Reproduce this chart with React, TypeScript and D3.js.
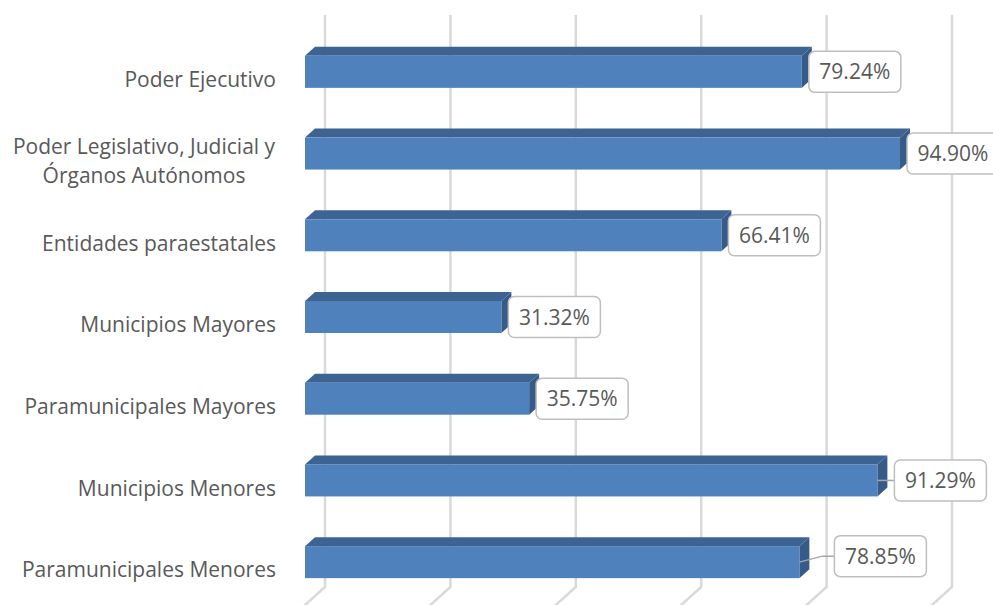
import React from "react";
import * as d3 from "d3";

const categories: string[][] = [
  ["Poder Ejecutivo"],
  ["Poder Legislativo, Judicial y", "Órganos Autónomos"],
  ["Entidades paraestatales"],
  ["Municipios Mayores"],
  ["Paramunicipales Mayores"],
  ["Municipios Menores"],
  ["Paramunicipales Menores"],
];
const values: number[] = [79.24, 94.9, 66.41, 31.32, 35.75, 91.29, 78.85];
const gridTicks: number[] = [0, 20, 40, 60, 80, 100];

const W = 993;
const H = 605;
const DEPTH_X = 20;
const DEPTH_Y = 18;
const BAR_DX = 10;
const BAR_DY = 9;
const FRONT_X0 = 305;
const BACK_TOP = 15;
const BAR_H = 32;
const FONT = "'Open Sans', sans-serif";

// label box adjustments (leader lines) for the last two bars
const labelAdjust: { dx: number; dy: number }[] = [
  { dx: 0, dy: 0 },
  { dx: 0, dy: 0 },
  { dx: 0, dy: 0 },
  { dx: 0, dy: 0 },
  { dx: 0, dy: 0 },
  { dx: 10, dy: 0 },
  { dx: 28, dy: -6 },
];

export default function App() {
  const x = d3.scaleLinear().domain([0, 100]).range([FRONT_X0, FRONT_X0 + 627]);
  const keys = categories.map((_, i) => String(i));
  const y = d3
    .scaleBand<string>()
    .domain(keys)
    .range([BACK_TOP + DEPTH_Y - 2, H - 2])
    .paddingInner(0)
    .paddingOuter(0);
  const step = y.bandwidth();

  return (
    <div style={{ position: "fixed", left: 0, top: 0 }}>
      <svg width={W} height={H} style={{ display: "block", background: "#fff" }}>
        {gridTicks.map((t) => {
          const xb = x(t) + DEPTH_X;
          const yb = H - DEPTH_Y;
          return (
            <path
              key={t}
              d={`M${xb},${BACK_TOP}L${xb},${yb}L${xb - DEPTH_X * 1.3},${yb + DEPTH_Y * 1.3}`}
              fill="none"
              stroke="#d9d9d9"
              strokeWidth={2.5}
            />
          );
        })}
        {values.map((v, i) => {
          const cy = (y(String(i)) as number) + step / 2;
          const top = cy - BAR_H / 2;
          const x0 = x(0);
          const xe = x(v);
          return (
            <g key={i}>
              <polygon
                points={`${x0},${top} ${x0 + BAR_DX},${top - BAR_DY} ${xe + BAR_DX},${top - BAR_DY} ${xe},${top}`}
                fill="#3d6393"
              />
              <polygon
                points={`${xe},${top} ${xe + BAR_DX},${top - BAR_DY} ${xe + BAR_DX},${top + BAR_H - BAR_DY} ${xe},${top + BAR_H}`}
                fill="#375b88"
              />
              <rect x={x0} y={top} width={xe - x0} height={BAR_H} fill="#4f81bd" />
            </g>
          );
        })}
        {categories.map((lines, i) => {
          const cy = (y(String(i)) as number) + step / 2 + 8;
          const lh = 29;
          const start = cy - ((lines.length - 1) * lh) / 2;
          const multi = lines.length > 1;
          return (
            <text
              key={i}
              fontFamily={FONT}
              fontSize={21}
              fill="#595959"
              textAnchor={multi ? "middle" : "end"}
            >
              {lines.map((ln, j) => (
                <tspan key={j} x={multi ? 144 : 276} y={start + j * lh} dy="0.35em">
                  {ln}
                </tspan>
              ))}
            </text>
          );
        })}
        {values.map((v, i) => {
          const cy = (y(String(i)) as number) + step / 2;
          const xe = x(v);
          const adj = labelAdjust[i];
          const bx = xe + 7 + adj.dx;
          const bcy = cy + adj.dy;
          const bw = 92;
          const bh = 41;
          let leader: string | null = null;
          if (adj.dx !== 0 || adj.dy !== 0) {
            if (adj.dy === 0) {
              leader = `M${xe},${cy}L${bx},${bcy}`;
            } else {
              leader = `M${xe},${cy}L${bx - 12},${bcy}L${bx},${bcy}`;
            }
          }
          return (
            <g key={i}>
              {leader && <path d={leader} fill="none" stroke="#a6a6a6" strokeWidth={1.5} />}
              <rect
                x={bx}
                y={bcy - bh / 2}
                width={bw}
                height={bh}
                rx={6}
                ry={6}
                fill="#fff"
                stroke="#bfbfbf"
                strokeWidth={1.5}
              />
              <text
                x={bx + bw / 2}
                y={bcy}
                dy="0.36em"
                textAnchor="middle"
                fontFamily={FONT}
                fontSize={21}
                fill="#595959"
              >
                {v.toFixed(2)}%
              </text>
            </g>
          );
        })}
      </svg>
    </div>
  );
}
